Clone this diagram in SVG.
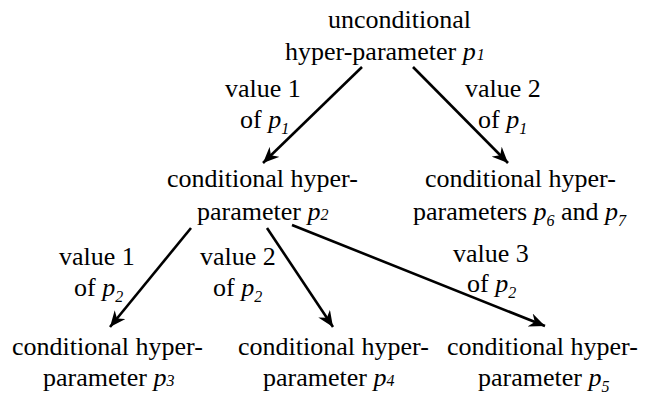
<svg xmlns="http://www.w3.org/2000/svg" width="645" height="396" viewBox="0 0 645 396">
<style>
text { font-family: 'Liberation Serif', 'DejaVu Serif', serif; font-size: 26px; fill: #000; }
.i { font-style: italic; }
.s { font-size: 16px; font-style: italic; }
.e { stroke: #000; stroke-width: 2.6; fill: none; marker-end: url(#ah); }
</style>
<defs>
<marker id="ah" markerUnits="userSpaceOnUse" markerWidth="18" markerHeight="14" refX="16" refY="7" orient="auto">
<path d="M0,0 L16,7 L0,14 L5,7 Z" fill="#000"/>
</marker>
</defs>
<rect width="645" height="396" fill="#fff"/>
<g id="connectors">
<line class="e" x1="362" y1="67" x2="263" y2="163"/>
<line class="e" x1="413" y1="67" x2="508" y2="163"/>
<line class="e" x1="191" y1="228" x2="110" y2="327"/>
<line class="e" x1="267" y1="228" x2="333" y2="327"/>
<line class="e" x1="292" y1="225" x2="545" y2="326"/>
</g>
<g id="edge-labels">
<text x="225" y="97">value 1</text>
<text x="240" y="128">of <tspan class="i">p</tspan><tspan class="s" dy="6">1</tspan></text>
<text x="465" y="97">value 2</text>
<text x="478" y="128">of <tspan class="i">p</tspan><tspan class="s" dy="6">1</tspan></text>
<text x="59" y="265">value 1</text>
<text x="74" y="296">of <tspan class="i">p</tspan><tspan class="s" dy="6">2</tspan></text>
<text x="200" y="265">value 2</text>
<text x="213" y="296">of <tspan class="i">p</tspan><tspan class="s" dy="6">2</tspan></text>
<text x="453" y="262">value 3</text>
<text x="467" y="292">of <tspan class="i">p</tspan><tspan class="s" dy="6">2</tspan></text>
</g>
<g id="node-p1">
<text x="328" y="28">unconditional</text>
<text x="285" y="60">hyper-parameter <tspan class="i">p</tspan><tspan class="s" dx="1">1</tspan></text>
</g>
<g id="node-p2">
<text x="167" y="187">conditional hyper-</text>
<text x="197" y="220">parameter <tspan class="i">p</tspan><tspan class="s">2</tspan></text>
</g>
<g id="node-p6-p7">
<text x="425" y="187">conditional hyper-</text>
<text x="413" y="220">parameters <tspan class="i">p</tspan><tspan class="s" dy="6">6</tspan><tspan dy="-6"> and </tspan><tspan class="i">p</tspan><tspan class="s" dy="6">7</tspan></text>
</g>
<g id="node-p3">
<text x="12" y="355">conditional hyper-</text>
<text x="43" y="386">parameter <tspan class="i">p</tspan><tspan class="s">3</tspan></text>
</g>
<g id="node-p4">
<text x="238" y="355">conditional hyper-</text>
<text x="263" y="386">parameter <tspan class="i">p</tspan><tspan class="s">4</tspan></text>
</g>
<g id="node-p5">
<text x="447" y="355">conditional hyper-</text>
<text x="478" y="386">parameter <tspan class="i">p</tspan><tspan class="s" dy="6">5</tspan></text>
</g>
</svg>
